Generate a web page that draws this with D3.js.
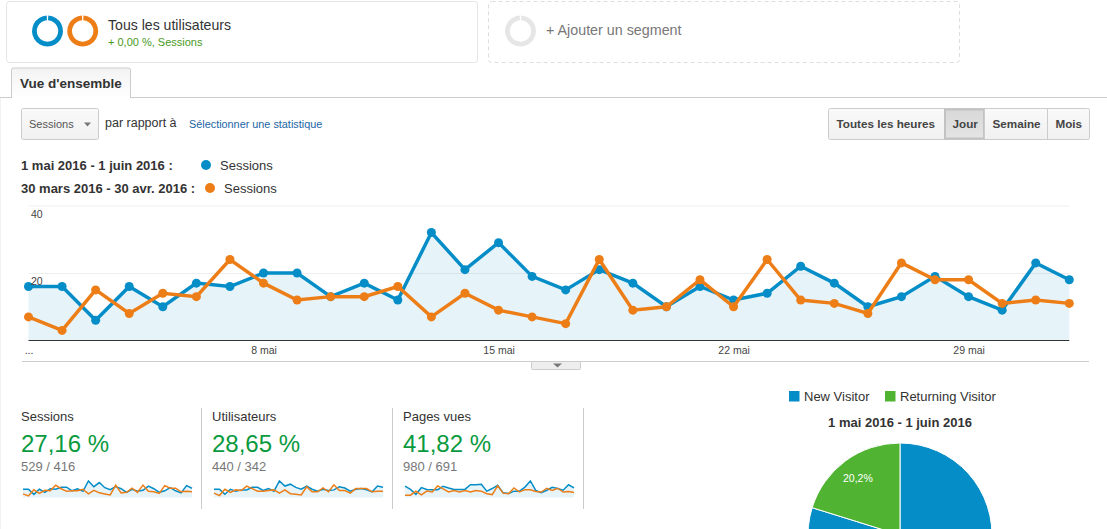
<!DOCTYPE html>
<html>
<head>
<meta charset="utf-8">
<script src="https://d3js.org/d3.v7.min.js"></script>
<style>
  body { margin: 0; background: #fff; overflow: hidden; }
  svg { display: block; font-family: "Liberation Sans", Arial, sans-serif; }
  .tick line { stroke: #eee; }
  .domain { display: none; }
</style>
</head>
<body>
<div id="vis"></div>

<script>
  var days = ['1 mai', '2 mai', '3 mai', '4 mai', '5 mai', '6 mai', '7 mai', '8 mai',
    '9 mai', '10 mai', '11 mai', '12 mai', '13 mai', '14 mai', '15 mai', '16 mai',
    '17 mai', '18 mai', '19 mai', '20 mai', '21 mai', '22 mai', '23 mai', '24 mai',
    '25 mai', '26 mai', '27 mai', '28 mai', '29 mai', '30 mai', '31 mai', '1 juin'];
  var sessionsNow = [16, 16, 6, 16, 10, 17, 16, 20, 20, 13, 17, 12, 32, 21, 29, 19,
    15, 21, 17, 10, 16, 12, 14, 22, 17, 10, 13, 19, 13, 9, 23, 18];
  var sessionsPrev = [7, 3, 15, 8, 14, 13, 24, 17, 12, 13, 13, 16, 7, 14, 9, 7,
    5, 24, 9, 10, 18, 10, 24, 12, 11, 8, 23, 18, 18, 11, 12, 11];
  var usersNow = [13, 13, 5, 13, 10, 12, 12, 16, 16, 11, 14, 10, 26, 18, 21, 16,
    13, 18, 13, 10, 13, 11, 12, 17, 15, 10, 13, 14, 12, 9, 18, 16];
  var usersPrev = [7, 3, 13, 8, 12, 11, 18, 14, 10, 10, 11, 12, 7, 12, 6, 5,
    4, 17, 9, 9, 15, 9, 20, 11, 11, 7, 14, 14, 14, 9, 10, 10];
  var pagesNow = [39, 28, 11, 34, 28, 27, 27, 39, 33, 28, 28, 28, 44, 44, 46, 22,
    31, 42, 16, 14, 22, 22, 36, 57, 24, 17, 25, 35, 31, 25, 44, 33];
  var pagesPrev = [8, 8, 22, 9, 22, 19, 40, 30, 19, 24, 19, 24, 19, 24, 22, 13,
    10, 40, 15, 13, 33, 19, 27, 27, 21, 19, 32, 24, 32, 19, 21, 17];
  var yTicks = [20, 40];
  var xTicks = ['1 mai', '8 mai', '15 mai', '22 mai', '29 mai'];
  var visitorTypes = ['New Visitor', 'Returning Visitor'];
  var visitorShares = [79.8, 20.2];
  var metricNames = ['Sessions', 'Utilisateurs', 'Pages vues'];
  var metricChanges = ['27,16 %', '28,65 %', '41,82 %'];
  var metricTotals = ['529 / 416', '440 / 342', '980 / 691'];
  var metricSeries = [[sessionsNow, sessionsPrev], [usersNow, usersPrev], [pagesNow, pagesPrev]];
  var periods = ['1 mai 2016 - 1 juin 2016 :', '30 mars 2016 - 30 avr. 2016 :'];
  var intervals = ['Toutes les heures', 'Jour', 'Semaine', 'Mois'];

  var blue = '#058dc7', orange = '#ed7e17', green = '#50b432';

  var svg = d3.select('#vis')
    .append('svg')
    .attr('width', 1107)
    .attr('height', 529);

  var defs = svg.append('defs');
  function gradient(id, top, bottom) {
    var g = defs.append('linearGradient').attr('id', id)
      .attr('x1', 0).attr('y1', 0).attr('x2', 0).attr('y2', 1);
    g.append('stop').attr('offset', '0%').attr('stop-color', top);
    g.append('stop').attr('offset', '100%').attr('stop-color', bottom);
  }
  gradient('btn', '#fafafa', '#f0f0f0');
  gradient('btnOn', '#d8d8d8', '#e4e4e4');
  gradient('tab', '#f3f3f3', '#ffffff');

  function label(str, x, y, size, color, weight, anchor) {
    return svg.append('text')
      .attr('x', x)
      .attr('y', y)
      .attr('font-size', size)
      .attr('fill', color)
      .attr('font-weight', weight || 'normal')
      .attr('text-anchor', anchor || 'start')
      .text(str);
  }

  function box(x, y, w, h, fill, stroke, r) {
    return svg.append('rect')
      .attr('x', x).attr('y', y)
      .attr('width', w).attr('height', h)
      .attr('rx', r || 0)
      .attr('fill', fill)
      .attr('stroke', stroke);
  }

  // left edge of the page
  box(0, 98, 1, 431, '#f2f2f2', 'none');

  // segment cards
  box(6.5, 1.5, 471, 61, '#fff', '#e5e5e5', 3);
  box(488.5, 1.5, 471, 61, '#fff', '#ddd', 3).attr('stroke-dasharray', '4,3');

  var ring = d3.arc()
    .innerRadius(10.7)
    .outerRadius(15.5)
    .startAngle(0.05)
    .endAngle(2 * Math.PI - 0.05);
  [[47.5, blue], [82.7, orange], [520.5, '#e6e6e6']].forEach(function(d) {
    svg.append('path')
      .attr('transform', 'translate(' + d[0] + ',31)')
      .attr('d', ring())
      .attr('fill', d[1]);
  });

  label('Tous les utilisateurs', 108, 30, 14.1, '#333');
  label('+ 0,00 %, Sessions', 108, 46, 11, '#4b9a1d');
  label('+ Ajouter un segment', 546, 35, 14.3, '#777');

  // tab
  svg.append('line')
    .attr('x1', 0).attr('x2', 1107)
    .attr('y1', 97.5).attr('y2', 97.5)
    .attr('stroke', '#ccc');
  svg.append('path')
    .attr('d', 'M11.5,98V70a2,2 0 0 1 2,-2H128.5a2,2 0 0 1 2,2V98')
    .attr('fill', 'url(#tab)')
    .attr('stroke', '#ccc');
  label("Vue d'ensemble", 20, 88, 13.5, '#333', 'bold');

  // controls
  box(21.5, 108.5, 77, 31, 'url(#btn)', '#ccc', 2);
  label('Sessions', 29, 128, 11, '#555');
  svg.append('path').attr('d', 'M84,122.5h7l-3.5,4z').attr('fill', '#777');
  label('par rapport à', 105, 127, 12.5, '#333');
  label('Sélectionner une statistique', 189, 128, 10.85, '#1a66a5');

  // interval buttons
  var btnEdges = [828.5, 944.5, 984.5, 1047.5, 1089.5];
  box(828.5, 108.5, 261, 31, 'url(#btn)', '#ccc', 2);
  box(btnEdges[1] + 0.5, 109.5, btnEdges[2] - btnEdges[1] - 1, 29, 'url(#btnOn)', '#c2c2c2')
    .attr('stroke-width', 2);
  intervals.forEach(function(d, i) {
    if (i > 1) {
      svg.append('line')
        .attr('x1', btnEdges[i]).attr('x2', btnEdges[i])
        .attr('y1', 109).attr('y2', 139)
        .attr('stroke', '#ccc');
    }
    label(d, btnEdges[i] + 8, 128, 11.7, '#444', 'bold');
  });

  // period legend
  label(periods[0], 21, 170, 13, '#333', 'bold');
  label(periods[1], 21, 193, 13, '#333', 'bold');
  svg.append('circle').attr('cx', 206).attr('cy', 165).attr('r', 5).attr('fill', blue);
  svg.append('circle').attr('cx', 210).attr('cy', 188).attr('r', 5).attr('fill', orange);
  label('Sessions', 220, 170, 13, '#333');
  label('Sessions', 224, 193, 13, '#333');

  // main chart
  var x = d3.scalePoint().domain(days).range([28.5, 1069.3]);
  var y = d3.scaleLinear().domain([0, 40]).range([340.5, 205.5]);

  svg.append('g')
    .attr('transform', 'translate(28.5,0)')
    .call(d3.axisRight(y).tickValues(yTicks).tickSize(1040.8).tickFormat(''));

  var area = d3.area()
    .x(function(d, i) { return x(days[i]); })
    .y0(y(0))
    .y1(function(d) { return y(d); });
  var line = d3.line()
    .x(function(d, i) { return x(days[i]); })
    .y(function(d) { return y(d); });

  svg.append('path')
    .attr('d', area(sessionsNow))
    .attr('fill', blue)
    .attr('fill-opacity', 0.1);

  function series(values, color) {
    svg.append('path')
      .attr('d', line(values))
      .attr('fill', 'none')
      .attr('stroke', color)
      .attr('stroke-width', 3.5);
    svg.append('g').selectAll('circle')
      .data(values)
      .enter()
      .append('circle')
      .attr('cx', function(d, i) { return x(days[i]); })
      .attr('cy', function(d) { return y(d); })
      .attr('r', 4.5)
      .attr('fill', color);
  }
  series(sessionsNow, blue);
  series(sessionsPrev, orange);

  var xAxis = svg.append('g')
    .attr('transform', 'translate(0,340.5)')
    .call(d3.axisBottom(x).tickValues(xTicks).tickSize(0).tickPadding(6)
      .tickFormat(function(d) { return d === '1 mai' ? '...' : d; }));
  xAxis.selectAll('text')
    .attr('font-size', 10.5)
    .attr('font-family', '"Liberation Sans", Arial, sans-serif')
    .attr('fill', '#444');

  svg.append('line')
    .attr('x1', 28.5).attr('x2', 1069.3)
    .attr('y1', y(0)).attr('y2', y(0))
    .attr('stroke', '#333');

  yTicks.forEach(function(d) {
    label(d, 31, y(d) + 12, 10.5, '#444');
  });

  // collapse handle
  svg.append('line')
    .attr('x1', 22).attr('x2', 1089)
    .attr('y1', 361.5).attr('y2', 361.5)
    .attr('stroke', '#ccc');
  box(531.5, 361.5, 49, 8, '#eee', '#ccc', 1);
  svg.append('path').attr('d', 'M553,363.5h9l-4.5,4z').attr('fill', '#777');

  // metric blocks with sparklines
  var sparkTop = 481, sparkBottom = 497.5;
  metricNames.forEach(function(name, m) {
    var left = 21 + m * 191;
    var now = metricSeries[m][0];
    var prev = metricSeries[m][1];

    label(name, left, 421, 13, '#333');
    label(metricChanges[m], left, 452, 24, '#0a9a3e');
    label(metricTotals[m], left, 471, 13, '#777');

    svg.append('line')
      .attr('x1', left + 180.5).attr('x2', left + 180.5)
      .attr('y1', 408).attr('y2', 509)
      .attr('stroke', '#ccc');

    var sx = d3.scalePoint().domain(days).range([left + 2, left + 171]);
    var sy = d3.scaleLinear()
      .domain([0, d3.max(now.concat(prev))])
      .range([sparkBottom, sparkTop]);

    svg.append('path')
      .attr('d', d3.area()
        .x(function(d, i) { return sx(days[i]); })
        .y0(sparkBottom)
        .y1(function(d) { return sy(d); })(now))
      .attr('fill', blue)
      .attr('fill-opacity', 0.1);

    var sline = d3.line()
      .x(function(d, i) { return sx(days[i]); })
      .y(function(d) { return sy(d); });
    [[now, blue], [prev, orange]].forEach(function(s) {
      svg.append('path')
        .attr('d', sline(s[0]))
        .attr('fill', 'none')
        .attr('stroke', s[1])
        .attr('stroke-width', 1.5);
    });
  });

  // visitor pie
  var pieColor = d3.scaleOrdinal().domain(visitorTypes).range([blue, green]);

  box(789, 391, 10.5, 10.5, blue, 'none');
  label(visitorTypes[0], 804, 401, 13, '#333');
  box(885, 391, 10.5, 10.5, green, 'none');
  label(visitorTypes[1], 900, 401, 13, '#333');
  label('1 mai 2016 - 1 juin 2016', 900, 427, 13, '#333', 'bold', 'middle');

  var pie = d3.pie().sort(null);
  var slices = pie(visitorShares);
  var arc = d3.arc().innerRadius(0).outerRadius(92);
  var labelArc = d3.arc().innerRadius(71).outerRadius(71);

  var pieG = svg.append('g').attr('transform', 'translate(900,535)');
  pieG.selectAll('path')
    .data(slices)
    .enter()
    .append('path')
    .attr('d', arc)
    .attr('fill', function(d, i) { return pieColor(visitorTypes[i]); })
    .attr('stroke', '#fff')
    .attr('stroke-width', 1);
  pieG.append('text')
    .attr('transform', 'translate(' + labelArc.centroid(slices[1]) + ')')
    .attr('text-anchor', 'middle')
    .attr('dy', 4)
    .attr('font-size', 10.5)
    .attr('fill', '#fff')
    .text(String(visitorShares[1]).replace('.', ',') + '%');
</script>
</body>
</html>
